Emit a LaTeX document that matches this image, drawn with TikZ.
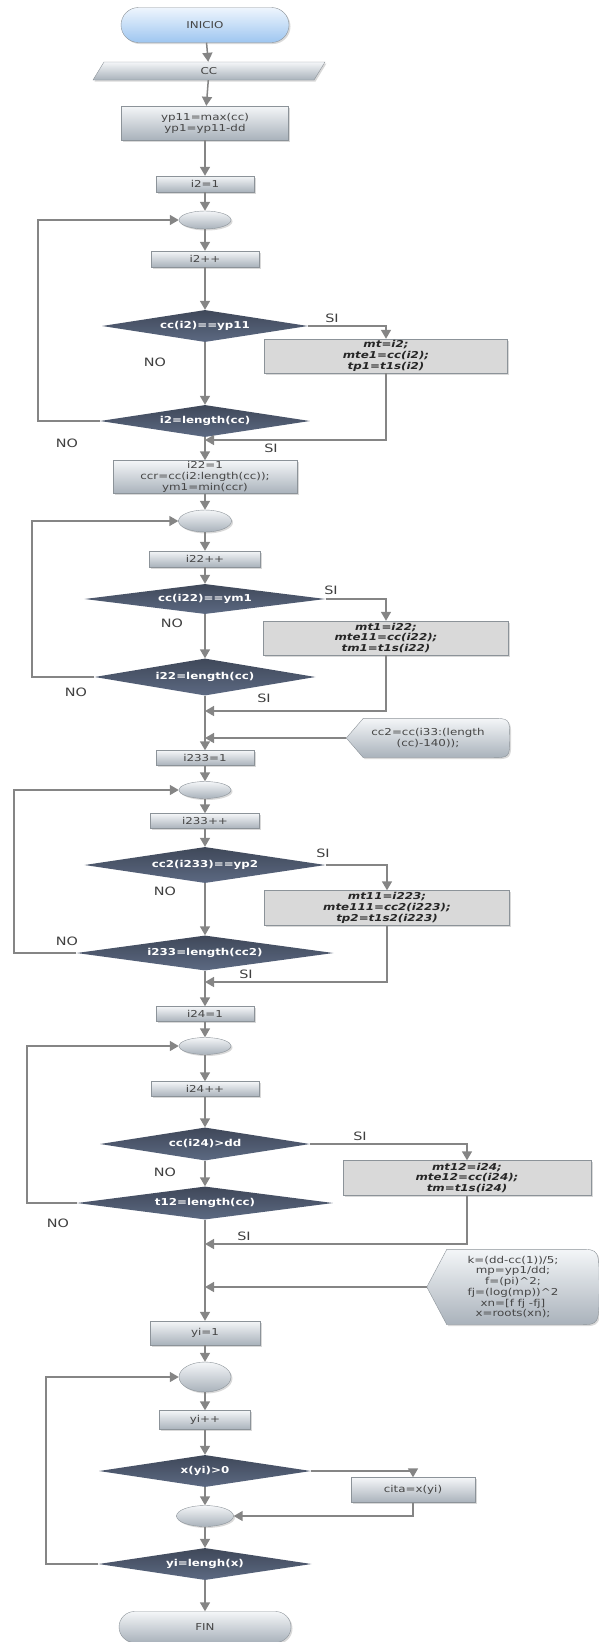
\documentclass[tikz,border=0pt]{standalone}
\usepackage{fontspec}
\setmainfont{DejaVu Sans}[FakeStretch=1.25]
\usetikzlibrary{arrows.meta,shapes.geometric,shapes.misc,shadows}
\pgfdeclarelayer{fondo}
\pgfsetlayers{fondo,main}

\definecolor{lineagris}{HTML}{858585}
\definecolor{cajaarriba}{HTML}{F4F6F8}
\definecolor{cajaabajo}{HTML}{A9B2BB}
\definecolor{bordegris}{HTML}{8C9399}
\definecolor{rombouno}{HTML}{3F4859}
\definecolor{rombodos}{HTML}{5C6982}
\definecolor{azularriba}{HTML}{EEF5FD}
\definecolor{azulabajo}{HTML}{9EC6F0}
\definecolor{ladogris}{HTML}{D9D9D9}
\definecolor{textogris}{HTML}{454545}

\begin{document}
\begin{tikzpicture}[x=1pt,y=1pt,
		font=\fontsize{9.5}{10.8}\selectfont,
		caja/.style={rectangle, draw=bordegris, top color=cajaarriba, bottom color=cajaabajo, text=textogris, align=center, inner sep=1pt, drop shadow={shadow xshift=1.5pt, shadow yshift=-1.5pt, opacity=0.3}},
		terminal/.style={caja, rounded rectangle},
		bucle/.style={caja, ellipse, inner sep=0pt},
		rombo/.style={diamond, aspect=7, inner sep=0pt, top color=rombouno, bottom color=rombodos, text=white, font=\fontsize{9.5}{10.8}\selectfont\bfseries},
		lado/.style={rectangle, draw=bordegris, fill=ladogris, align=center, inner sep=1pt, text=black!85, font=\fontsize{9.5}{10.8}\selectfont\bfseries\itshape, drop shadow={shadow xshift=1.5pt, shadow yshift=-1.5pt, opacity=0.3}},
		pantalla/.style={align=center, inner sep=0pt, text=textogris},
		etq/.style={font=\fontsize{11.5}{12}\selectfont, text=black!75},
		flecha/.style={draw=lineagris, line width=1.5pt, -{Triangle[width=10pt,length=9pt]}}]
				\useasboundingbox (0,0) rectangle (599,-1642);
				
				% main column
				\node[terminal, top color=azularriba, bottom color=azulabajo, minimum width=170pt, minimum height=35pt] (ini) at (205,-25) {INICIO};
				\node[caja, trapezium, trapezium left angle=40, trapezium right angle=140, trapezium stretches body, minimum width=232pt, minimum height=18pt] (ent) at (209,-71) {CC};
				\node[caja, minimum width=167pt, minimum height=34pt] (b1) at (205,-123) {yp11=max(cc)\\yp1=yp11-dd};
				\node[caja, minimum width=98pt, minimum height=16pt] (b2) at (205,-184) {i2=1};
				\node[bucle, minimum width=52pt, minimum height=18pt] (e1) at (205,-220) {};
				\node[caja, minimum width=108pt, minimum height=16pt] (b3) at (205,-259) {i2++};
				\node[rombo, minimum width=206pt, minimum height=32pt] (d1) at (205,-326) {cc(i2)==yp11};
				\node[rombo, minimum width=210pt, minimum height=32pt] (d2) at (205,-421) {i2=length(cc)};
				\node[caja, minimum width=184pt, minimum height=33pt] (b4) at (205,-477) {i22=1\\ccr=cc(i2:length(cc));\\ym1=min(ccr)};
				\node[bucle, minimum width=53pt, minimum height=22pt] (e2) at (205,-521) {};
				\node[caja, minimum width=111pt, minimum height=16pt] (b5) at (205,-559) {i22++};
				\node[rombo, minimum width=241pt, minimum height=30pt] (d3) at (205,-599) {cc(i22)==ym1};
				\node[rombo, minimum width=221pt, minimum height=37pt] (d4) at (205,-677) {i22=length(cc)};
				\node[caja, minimum width=98pt, minimum height=15pt] (b6) at (205,-758) {i233=1};
				\node[bucle, minimum width=52pt, minimum height=17pt] (e3) at (205,-790) {};
				\node[caja, minimum width=109pt, minimum height=15pt] (b7) at (205,-821) {i233++};
				\node[rombo, minimum width=241pt, minimum height=36pt] (d5) at (205,-865) {cc2(i233)==yp2};
				\node[rombo, minimum width=257pt, minimum height=35pt] (d6) at (205,-953) {i233=length(cc2)};
				\node[caja, minimum width=98pt, minimum height=15pt] (b8) at (205,-1014) {i24=1};
				\node[bucle, minimum width=52pt, minimum height=17pt] (e4) at (205,-1046) {};
				\node[caja, minimum width=108pt, minimum height=15pt] (b9) at (205,-1089) {i24++};
				\node[rombo, minimum width=210pt, minimum height=33pt] (d7) at (205,-1144) {cc(i24)>dd};
				\node[rombo, minimum width=256pt, minimum height=33pt] (d8) at (205,-1203) {t12=length(cc)};
				\node[caja, minimum width=110pt, minimum height=24pt] (b10) at (205,-1333) {yi=1};
				\node[bucle, minimum width=52pt, minimum height=30pt] (e5) at (205,-1377) {};
				\node[caja, minimum width=91pt, minimum height=19pt] (b11) at (205,-1420) {yi++};
				\node[rombo, minimum width=212pt, minimum height=32pt] (d9) at (205,-1471) {x(yi)>0};
				\node[bucle, minimum width=57pt, minimum height=21pt] (e6) at (205,-1516) {};
				\node[rombo, minimum width=213pt, minimum height=32pt] (d10) at (205,-1564) {yi=lengh(x)};
				\node[terminal, minimum width=174pt, minimum height=31pt] (fin) at (205,-1627) {FIN};
				
				% side column
				\node[lado, minimum width=243pt, minimum height=34pt] (s1) at (386,-356) {mt=i2;\\mte1=cc(i2);\\tp1=t1s(i2)};
				\node[lado, minimum width=245pt, minimum height=34pt] (s2) at (386,-638) {mt1=i22;\\mte11=cc(i22);\\tm1=t1s(i22)};
				\node[lado, minimum width=245pt, minimum height=35pt] (s3) at (387,-908) {mt11=i223;\\mte111=cc2(i223);\\tp2=t1s2(i223)};
				\node[lado, minimum width=248pt, minimum height=35pt] (s4) at (467,-1178) {mt12=i24;\\mte12=cc(i24);\\tm=t1s(i24)};
				\node[caja, minimum width=124pt, minimum height=25pt] (s5) at (413,-1490) {cita=x(yi)};
				\node[pantalla, minimum width=163pt, minimum height=39pt] (c1) at (428,-738) {cc2=cc(i33:(length\\(cc)-140));};
				\node[pantalla, minimum width=172pt, minimum height=75pt] (c2) at (513,-1287) {k=(dd-cc(1))/5;\\mp=yp1/dd;\\f=(pi)\textasciicircum 2;\\fj=(log(mp))\textasciicircum 2\\xn=[f fj -fj]\\x=roots(xn);};
				
				\foreach \c/\p in {c1/17, c2/20}
				{	\begin{pgfonlayer}{fondo}
						\draw[draw=bordegris, top color=cajaarriba, bottom color=cajaabajo, drop shadow={shadow xshift=1.5pt, shadow yshift=-1.5pt, opacity=0.3}] (\c.west) -- ([xshift=\p pt]\c.north west) -- ([xshift=-20pt]\c.north east) .. controls (\c.north east) .. (\c.east) .. controls (\c.south east) .. ([xshift=-20pt]\c.south east) -- ([xshift=\p pt]\c.south west) -- cycle;
					\end{pgfonlayer}
				}
				
				\coordinate (j1) at (205,-440);
				\coordinate (j2) at (205,-711);
				\coordinate (j3) at (205,-738);
				\coordinate (j4) at (205,-982);
				\coordinate (j5) at (205,-1244);
				\coordinate (j6) at (205,-1287);
				\coordinate (r1) at (38,-421);
				\coordinate (r2) at (32,-677);
				\coordinate (r3) at (14,-953);
				\coordinate (r4) at (27,-1203);
				\coordinate (r5) at (46,-1564);
				
				\def\baja {ini/ent, ent/b1, b1/b2, b2/e1, e1/b3, b3/d1, d1/d2, d2/b4, b4/e2, e2/b5, b5/d3, d3/d4, d4/b6, b6/e3, e3/b7, b7/d5, d5/d6, d6/b8, b8/e4, e4/b9, b9/d7, d7/d8, d8/b10, b10/e5, e5/b11, b11/d9, d9/e6, e6/d10, d10/fin}  % list elements
				\foreach \u/\v in \baja
				{	\draw[flecha] (\u) -- (\v);
				}
				\def\si {d1/s1, d3/s2, d5/s3, d7/s4, d9/s5}  % list elements
				\foreach \u/\v in \si
				{	\draw[flecha] (\u.east) -| (\v.north);
				}
				\def\vuelta {s1/j1, s2/j2, s3/j4, s4/j5, s5/e6.east} % list elements
				\foreach \u/\v in \vuelta
				{	\draw[flecha] (\u.south) |- (\v);
				}
				\foreach \u/\v in {c1/j3, c2/j6}
				{	\draw[flecha] (\u.west) -- (\v);
				}
				\def\lazo {d2/r1/e1, d4/r2/e2, d6/r3/e3, d8/r4/e4, d10/r5/e5} % list elements
				\foreach \u/\r/\v in \lazo
				{	\draw[flecha] (\u.west) -- (\r) |- (\v.west);
				}
				
				\foreach \n/\x/\y/\t in {si1/332/318/SI, si2/271/448/SI, si3/331/590/SI, si4/264/698/SI, si5/323/853/SI, si6/246/974/SI, si7/360/1136/SI, si8/244/1236/SI, no1/155/362/NO, no2/67/443/NO, no3/172/623/NO, no4/76/692/NO, no5/165/891/NO, no6/67/941/NO, no7/165/1172/NO, no8/58/1223/NO}
				{	\node[etq] (\n) at (\x,-\y) {\t};
				}
				
			\end{tikzpicture}
\end{document}
